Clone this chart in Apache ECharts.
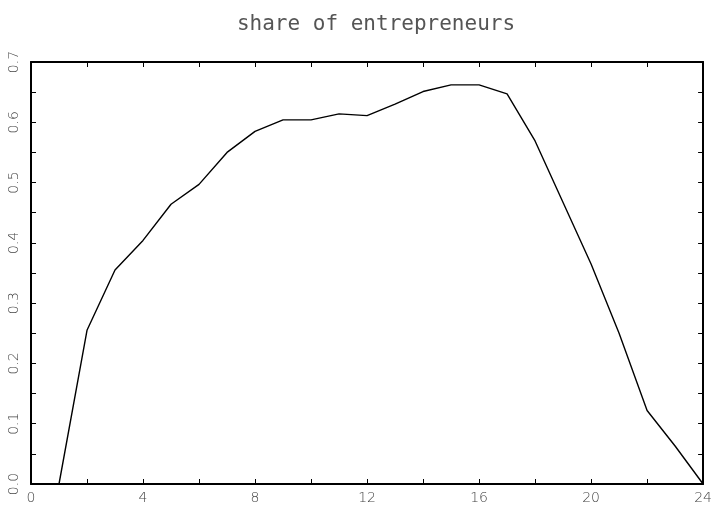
<!DOCTYPE html>
<html>
<head>
<meta charset="utf-8">
<script src="https://cdn.jsdelivr.net/npm/echarts@6/dist/echarts.min.js"></script>
<style>html,body{margin:0;padding:0;background:#fff;}#c{width:715px;height:505px;}</style>
</head>
<body>
<div id="c"></div>
<script>
var titleText = "share of entrepreneurs";
var xValues = [1, 2, 3, 4, 5, 6, 7, 8, 9, 10, 11, 12, 13, 14, 15, 16, 17, 18, 19, 20, 21, 22, 23, 24];
var shareValues = [0.0, 0.255, 0.355, 0.404, 0.464, 0.497, 0.55, 0.585, 0.604, 0.604, 0.614, 0.611, 0.63, 0.651, 0.662, 0.662, 0.647, 0.569, 0.467, 0.365, 0.25, 0.122, 0.063, 0.0];
var xTicks = [0, 4, 8, 12, 16, 20, 24];
var yTicks = [0.0, 0.1, 0.2, 0.3, 0.4, 0.5, 0.6, 0.7];

var chart = echarts.init(document.getElementById('c'), null, {renderer: 'canvas'});
var data = xValues.map(function (x, i) { return [x, shareValues[i]]; });
function labelFont(extra) {
  return Object.assign({color: '#444', fontFamily: 'DejaVu Sans', fontSize: 14, fontWeight: 'lighter'}, extra);
}
function frameLine() { return {show: true, onZero: false, lineStyle: {color: '#000', width: 2}}; }
function tick() { return {show: true, inside: true, length: 5, lineStyle: {color: '#000', width: 1}}; }
function xLabel(v) {
  var r = Math.round(v);
  return xTicks.indexOf(r) >= 0 ? String(r) : '';
}
function yLabel(v) {
  var r = Math.round(v * 100) / 100;
  for (var i = 0; i < yTicks.length; i++) {
    if (Math.abs(yTicks[i] - r) < 1e-6) return yTicks[i].toFixed(1);
  }
  return '';
}
chart.setOption({
  animation: false,
  backgroundColor: '#fff',
  title: {
    text: titleText, left: 371, top: 9, textAlign: 'center',
    textStyle: {color: '#555', fontFamily: 'DejaVu Sans Mono', fontSize: 21, fontWeight: 'normal'}
  },
  grid: {left: 31, top: 62, right: 9, bottom: 21, containLabel: false},
  xAxis: [{
    type: 'value', min: 0, max: 24, interval: 2,
    position: 'bottom',
    axisLine: frameLine(), axisTick: tick(), splitLine: {show: false},
    axisLabel: labelFont({margin: 7, formatter: xLabel})
  }, {
    type: 'value', min: 0, max: 24, interval: 2,
    position: 'top',
    axisLine: frameLine(), axisTick: tick(), splitLine: {show: false},
    axisLabel: {show: false}
  }],
  yAxis: [{
    type: 'value', min: 0, max: 0.7, interval: 0.05,
    position: 'left',
    axisLine: frameLine(), axisTick: tick(), splitLine: {show: false},
    axisLabel: labelFont({rotate: 90, margin: 10, formatter: yLabel})
  }, {
    type: 'value', min: 0, max: 0.7, interval: 0.05,
    position: 'right',
    axisLine: frameLine(), axisTick: tick(), splitLine: {show: false},
    axisLabel: {show: false}
  }],
  series: [{
    type: 'line', data: data, xAxisIndex: 0, yAxisIndex: 0,
    showSymbol: false, symbol: 'none',
    lineStyle: {color: '#000', width: 1.4}
  }]
});
</script>
</body>
</html>
